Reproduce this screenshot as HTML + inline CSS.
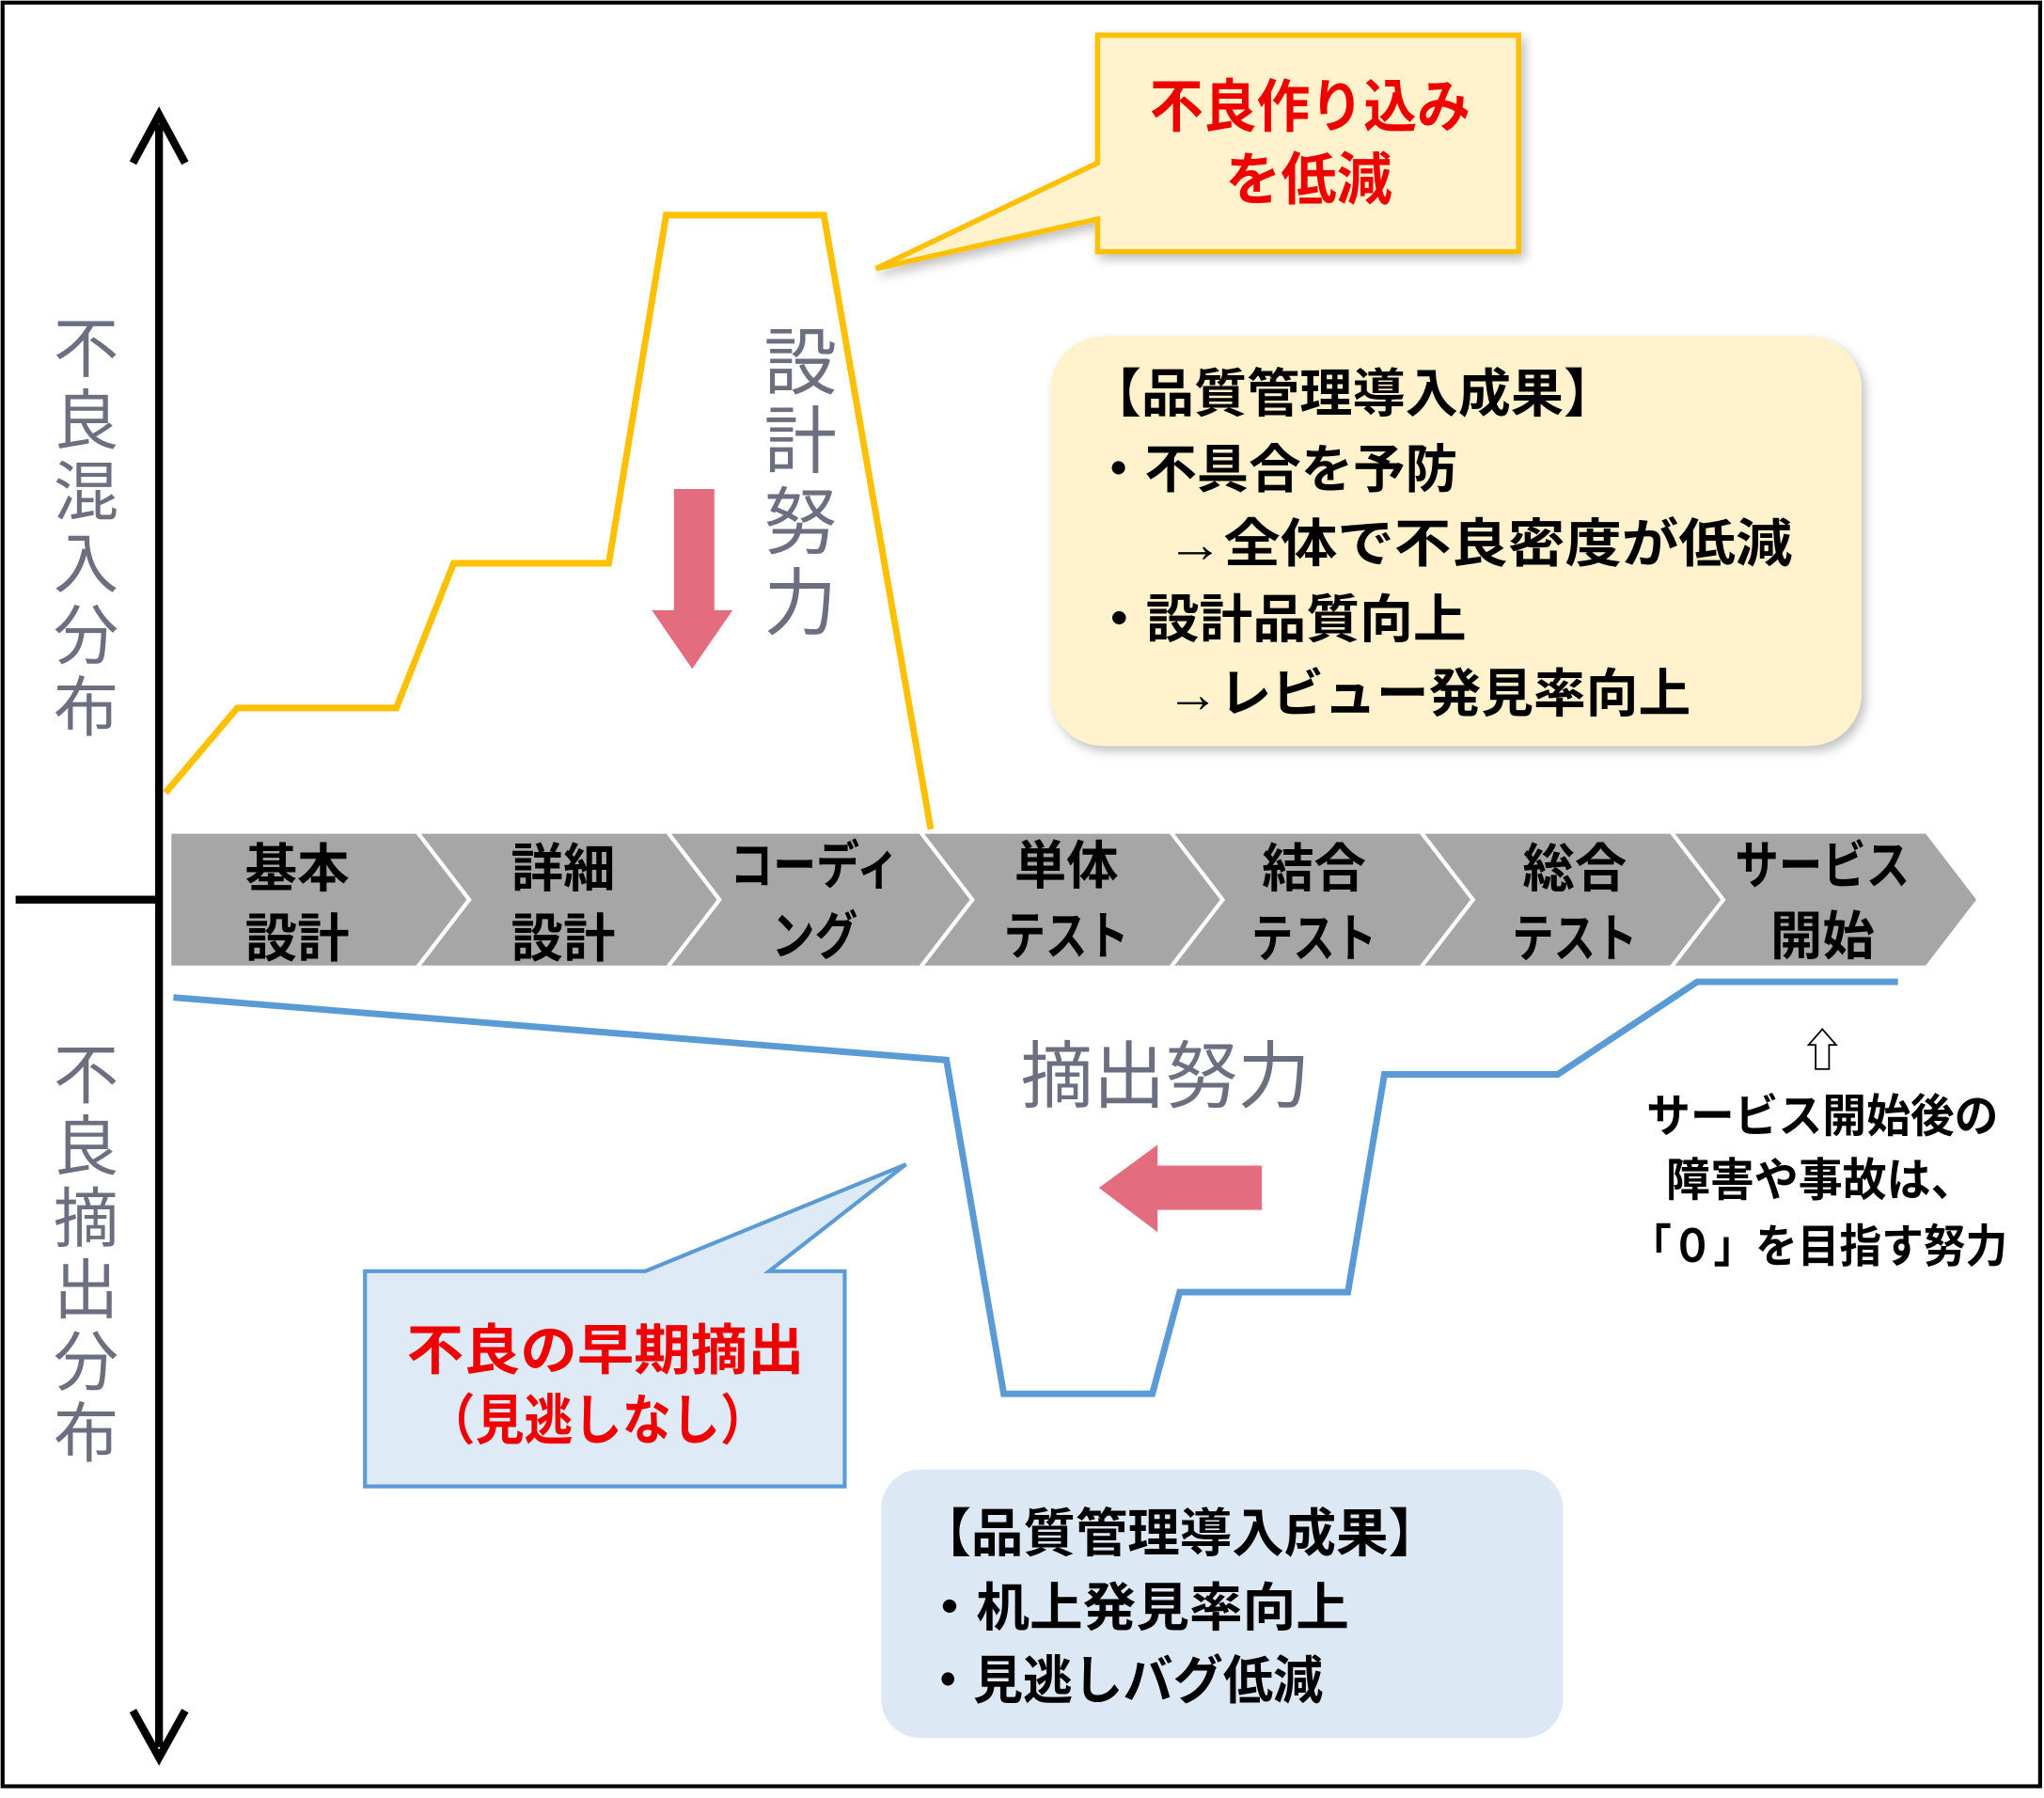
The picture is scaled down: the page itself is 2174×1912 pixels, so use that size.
<!DOCTYPE html>
<html><head><meta charset="utf-8"><style>
html,body{margin:0;padding:0;background:#fff;}
svg{display:block;}
text{font-family:"Liberation Sans","Noto Sans CJK JP",sans-serif;}
.b{font-weight:bold;}
</style></head><body>
<svg width="2174" height="1912" viewBox="0 0 1568 1379" preserveAspectRatio="none" xmlns="http://www.w3.org/2000/svg">
<defs>
<filter id="sh" x="-10%" y="-10%" width="120%" height="130%"><feDropShadow dx="3" dy="4" stdDeviation="4" flood-color="#000" flood-opacity="0.25"/></filter>
</defs>
<rect x="2" y="2" width="1563" height="1368" fill="#fff" stroke="#000" stroke-width="3"/>
<line x1="122" y1="95" x2="122" y2="1340" stroke="#000" stroke-width="6"/>
<polyline points="102,125 122,88 142,125" fill="none" stroke="#000" stroke-width="6"/>
<polyline points="102,1312 122,1348 142,1312" fill="none" stroke="#000" stroke-width="6"/>
<line x1="12" y1="690" x2="122" y2="690" stroke="#000" stroke-width="6"/>
<g fill="#6b6f80" font-size="50" text-anchor="middle">
<text x="66" y="285">不</text><text x="66" y="340">良</text><text x="66" y="395">混</text><text x="66" y="450">入</text><text x="66" y="505">分</text><text x="66" y="560">布</text>
<text x="66" y="842">不</text><text x="66" y="897">良</text><text x="66" y="952">摘</text><text x="66" y="1007">出</text><text x="66" y="1062">分</text><text x="66" y="1117">布</text>
</g>
<g fill="#a6a6a6" stroke="#fff" stroke-width="3">
<polygon points="130,638 320,638 360,690 320,742 130,742"/>
<polygon points="320,638 512,638 552,690 512,742 320,742 360,690"/>
<polygon points="512,638 706,638 746,690 706,742 512,742 552,690"/>
<polygon points="706,638 898,638 938,690 898,742 706,742 746,690"/>
<polygon points="898,638 1090,638 1130,690 1090,742 898,742 938,690"/>
<polygon points="1090,638 1282,638 1322,690 1282,742 1090,742 1130,690"/>
<polygon points="1282,638 1478,638 1518,690 1478,742 1282,742 1322,690"/>
</g>
<g class="b" font-size="40" text-anchor="middle" fill="#000" lengthAdjust="spacingAndGlyphs">
<text x="228" y="680">基本</text><text x="228" y="734">設計</text>
<text x="432" y="680">詳細</text><text x="432" y="734">設計</text>
<text x="625" y="678" textLength="130" lengthAdjust="spacingAndGlyphs">コーディ</text><text x="625" y="732" textLength="66" lengthAdjust="spacingAndGlyphs">ング</text>
<text x="818" y="678">単体</text><text x="818" y="732" textLength="96" lengthAdjust="spacingAndGlyphs">テスト</text>
<text x="1008" y="680">結合</text><text x="1008" y="734" textLength="96" lengthAdjust="spacingAndGlyphs">テスト</text>
<text x="1208" y="680">総合</text><text x="1208" y="734" textLength="96" lengthAdjust="spacingAndGlyphs">テスト</text>
<text x="1398" y="678" textLength="134" lengthAdjust="spacingAndGlyphs">サービス</text><text x="1398" y="732">開始</text>
</g>
<polyline points="127,608 182,543 304,543 348,432 467,432 511,165 632,165 714,636" fill="none" stroke="#ffc000" stroke-width="5"/>
<polyline points="133,765 726,813 770,1069 884,1069 905,991 1034,991 1062,824 1195,824 1302,753 1456,753" fill="none" stroke="#5b9bd5" stroke-width="5"/>
<polygon points="842,27 1165,27 1165,193 842,193 842,168 672,206 842,125" fill="#fff2cc" stroke="#ffc000" stroke-width="4" filter="url(#sh)"/>
<g class="b" font-size="44" fill="#e00">
<text x="882" y="97" textLength="246" lengthAdjust="spacingAndGlyphs">不良作り込み</text><text x="940" y="153" textLength="128" lengthAdjust="spacingAndGlyphs">を低減</text>
</g>
<rect x="806" y="258" width="622" height="314" rx="40" fill="#fff2cc" filter="url(#sh)"/>
<g class="b" font-size="40" fill="#000">
<text x="835" y="316" textLength="405" lengthAdjust="spacingAndGlyphs">【品質管理導入成果】</text>
<text x="838" y="374" textLength="280" lengthAdjust="spacingAndGlyphs">・不具合を予防</text>
<text x="895" y="431" textLength="480" lengthAdjust="spacingAndGlyphs">→全体で不良密度が低減</text>
<text x="838" y="489" textLength="287" lengthAdjust="spacingAndGlyphs">・設計品質向上</text>
<text x="895" y="546" textLength="402" lengthAdjust="spacingAndGlyphs">→レビュー発見率向上</text>
</g>
<g fill="#6b6f80" font-size="56" text-anchor="middle">
<text x="614" y="298">設</text><text x="614" y="358">計</text><text x="614" y="420">努</text><text x="614" y="482">力</text>
</g>
<polygon points="517,375 548,375 548,468 562,468 531,513 500,468 517,468" fill="#e46c7f"/>
<text x="783" y="845" font-size="56" fill="#6b6f80" textLength="222" lengthAdjust="spacingAndGlyphs">摘出努力</text>
<polygon points="968,894 968,928 888,928 888,945 843,911 888,878 888,894" fill="#e46c7f"/>
<polygon points="280,975 495,975 695,893 590,975 648,975 648,1140 280,1140" fill="#deebf7" stroke="#5b9bd5" stroke-width="3"/>
<g class="b" font-size="42" fill="#e00">
<text x="312" y="1050" textLength="305" lengthAdjust="spacingAndGlyphs">不良の早期摘出</text><text x="327" y="1104" textLength="263" lengthAdjust="spacingAndGlyphs">（見逃しなし）</text>
</g>
<rect x="676" y="1127" width="523" height="206" rx="30" fill="#dde8f5"/>
<g class="b" font-size="40" fill="#000">
<text x="705" y="1190" textLength="400" lengthAdjust="spacingAndGlyphs">【品質管理導入成果】</text>
<text x="708" y="1247" textLength="327" lengthAdjust="spacingAndGlyphs">・机上発見率向上</text>
<text x="708" y="1303" textLength="307" lengthAdjust="spacingAndGlyphs">・見逃しバグ低減</text>
</g>
<g class="b" font-size="35" fill="#000">
<text x="1398" y="818" font-weight="normal" text-anchor="middle">⇧</text>
<text x="1263" y="868" textLength="270" lengthAdjust="spacingAndGlyphs">サービス開始後の</text>
<text x="1278" y="917" textLength="237" lengthAdjust="spacingAndGlyphs">障害や事故は、</text>
<text x="1250" y="968" textLength="290" lengthAdjust="spacingAndGlyphs">「０」を目指す努力</text>
</g>
</svg>
</body></html>
